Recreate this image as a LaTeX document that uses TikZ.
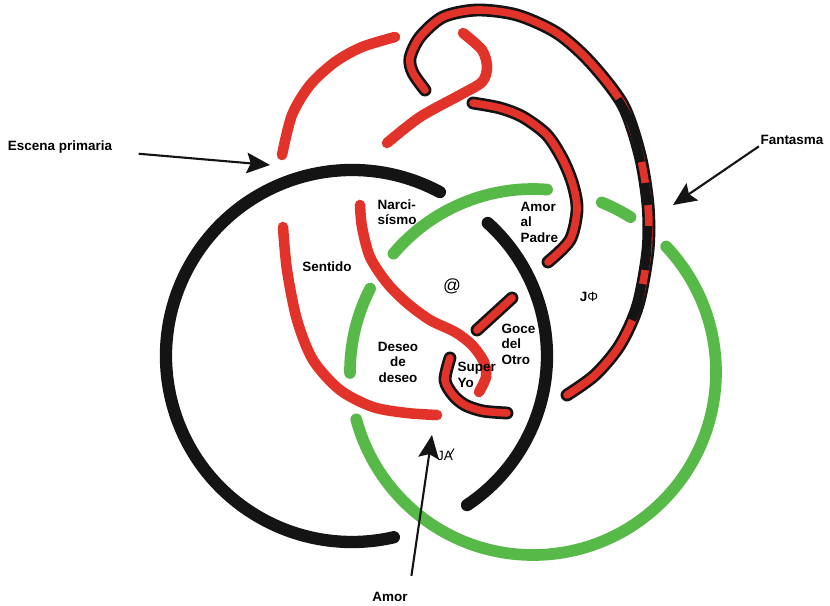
\documentclass[tikz,border=0pt]{standalone}
\usepackage{fontspec}
\setmainfont{Liberation Sans}
\usetikzlibrary{arrows.meta}
\definecolor{knotred}{HTML}{E2332B}
\definecolor{knotgreen}{HTML}{57B947}
\definecolor{knotblack}{HTML}{141414}

\begin{document}
\begin{tikzpicture}[x=0.03cm, y=-0.03cm, thick,
    >={Stealth[length=0.7cm, width=0.62cm, inset=0.12cm]},
    greenring/.style={draw=knotgreen, line width=10pt, line cap=round},
    blackring/.style={draw=knotblack, line width=10.5pt, line cap=round},
    redring/.style={draw=knotred, line width=9pt, line cap=round},
    redrim/.style={draw=knotblack, line width=11pt, line cap=round},
    redcore/.style={draw=knotred, line width=6.5pt, line cap=round},
    blackpart/.style={draw=knotblack, line width=7pt},
    knotlabel/.style={font=\bfseries\fontsize{11.5}{13.2}\selectfont, inner sep=1pt},
    pointer/.style={->, draw=knotblack, line width=1.8pt}]

        \useasboundingbox (0,0) rectangle (830,605);

        \draw[greenring] (533,372) ++(-139.7:183) arc[start angle=-139.7, end angle=-85.6, radius=183];
        \draw[greenring] (533,372) ++(-67.9:183) arc[start angle=-67.9, end angle=-57.8, radius=183];
        \draw[greenring] (533,372) ++(-43.3:183) arc[start angle=-43.3, end angle=165, radius=183];
        \draw[greenring] (533,372) ++(-152.9:183) arc[start angle=-152.9, end angle=-180.3, radius=183];

        \draw[blackring] (352,356) ++(-61.8:186) arc[start angle=-61.8, end angle=-283, radius=186];
        \draw[blackring] (368,356) ++(-48:179) arc[start angle=-48, end angle=56.4, radius=179];

        \draw[redring] plot[smooth] coordinates {(282,155) (292,115) (310,85) (335,62) (362,47) (395,37)};
        \draw[redring] plot[smooth] coordinates {(463,33) (482,50) (487,67) (482,82) (460,95) (420,117) (387,143)};
        \draw[redring] plot[smooth] coordinates {(283,227) (287,270) (297,320) (313,360) (340,390) (373,407) (407,413) (437,415)};
        \draw[redring] plot[smooth] coordinates {(360,205) (362,227) (370,257) (387,283) (407,303) (430,320) (455,332) (472,345) (484,362) (486,377) (479,392)};

        \draw[redrim] plot[smooth] coordinates {(425,90) (413,73) (410,58) (420,37) (443,17) (477,10) (517,15) (557,33) (590,62) (623,105) (640,155) (648,205) (648,250) (638,305) (620,345) (595,375) (567,395)};
        \draw[redcore] plot[smooth] coordinates {(425,90) (413,73) (410,58) (420,37) (443,17) (477,10) (517,15) (557,33) (590,62) (623,105) (640,155) (648,205) (648,250) (638,305) (620,345) (595,375) (567,395)};
        \draw[blackpart] plot[smooth] coordinates {(618,99) (632,125) (641,162)};
        \draw[blackpart] plot[smooth] coordinates {(645,183) (648,205)};
        \draw[blackpart] plot[smooth] coordinates {(648,226) (647,252) (645,270)};
        \draw[blackpart] plot[smooth] coordinates {(642,284) (638,305) (632,320)};

        \draw[redrim] plot[smooth] coordinates {(473,103) (500,108) (523,117) (547,135) (563,160) (573,185) (577,210) (570,240) (548,262)};
        \draw[redcore] plot[smooth] coordinates {(473,103) (500,108) (523,117) (547,135) (563,160) (573,185) (577,210) (570,240) (548,262)};
        \draw[redrim] (477,330) -- (512,298);
        \draw[redcore] (477,330) -- (512,298);
        \draw[redrim] plot[smooth] coordinates {(450,358) (445,380) (453,395) (465,405) (483,411) (507,413)};
        \draw[redcore] plot[smooth] coordinates {(450,358) (445,380) (453,395) (465,405) (483,411) (507,413)};

        \node[knotlabel, anchor=west, align=left] (narc) at (376,212) {Narci-\\sísmo};
        \node[knotlabel] (sentido) at (327,267) {Sentido};
        \node[font=\fontsize{15}{15}\selectfont] (arroba) at (452,286) {@};
        \node[knotlabel, align=center] (deseo) at (398,362) {Deseo\\de\\deseo};
        \node[knotlabel, anchor=west, align=left] (superyo) at (456,375) {Super\\Yo};
        \node[knotlabel, anchor=west, align=left] (goce) at (500,344) {Goce\\del\\Otro};
        \node[knotlabel, anchor=west, align=left] (padre) at (519,222) {Amor\\al\\Padre};
        \node[font=\fontsize{11.5}{13.2}\selectfont] (jphi) at (589,297) {\textbf{J}Φ};
        \node[font=\fontsize{11.5}{13.2}\selectfont] (ja) at (445,456)
            {J\ooalign{A\cr\hfil\raisebox{0.35em}{\rotatebox{58}{\rule{0.62em}{0.07em}}}\kern-0.12em\cr}};

        \node[knotlabel] (esc) at (60,147) {Escena primaria};
        \node[knotlabel] (fant) at (792,140) {Fantasma};
        \node[knotlabel] (amor) at (390,597) {Amor};

        \coordinate (escTip) at (270,165);
        \coordinate (fantTip) at (673,205);
        \coordinate (amorTip) at (432,435);

        \draw[pointer, shorten <=0.75cm] (esc) -- (escTip);
        \draw[pointer] (fant.south west) -- (fantTip);
        \draw[pointer, shorten <=0.45cm] (amor.north east) -- (amorTip);
    \end{tikzpicture}
\end{document}
